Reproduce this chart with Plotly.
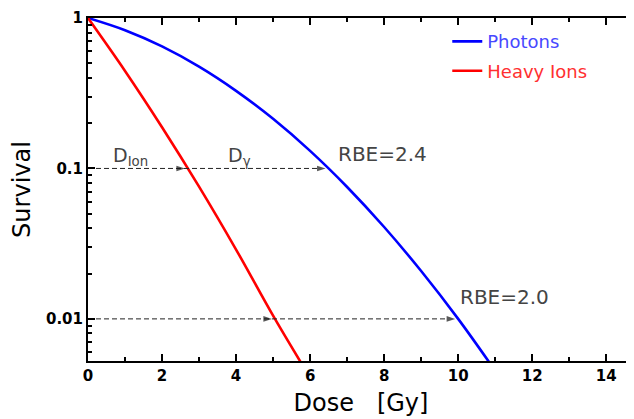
import numpy as np
import plotly.graph_objects as go

# ---- data ----
photon_dose = [0, 1, 2, 3, 4, 5, 6, 7, 8, 9, 10, 10.9]
photon_surv = [1.0, 0.829, 0.647, 0.475, 0.328, 0.2136, 0.1308, 0.0753, 0.0408, 0.0208, 0.0100, 0.0049]

ion_dose = [0, 1, 2, 3, 4, 5, 5.8]
ion_surv = [1.0, 0.445, 0.188, 0.0757, 0.0289, 0.0105, 0.0049]

levels = [0.1, 0.01]
d_ion = [2.7, 5.05]        # heavy-ion dose at each survival level
d_photon = [6.5, 10.0]     # photon dose at each survival level
rbe_labels = ["RBE=2.4", "RBE=2.0"]
dose_labels = ["D<sub>Ion</sub>", "D<sub>γ</sub>"]
dose_label_x = [1.15, 4.1]

x_ticks = [0, 2, 4, 6, 8, 10, 12, 14]
y_ticks = [1, 0.1, 0.01]
y_ticklabels = ["1", "0.1", "0.01"]
y_minor = [m * 10.0 ** e for e in (-3, -2, -1) for m in range(2, 10)]

FONT = "DejaVu Sans"
GREY = "#444444"

fig = go.Figure()

fig.add_trace(go.Scatter(x=photon_dose, y=photon_surv, mode="lines", line_shape="spline",
                         line=dict(color="#0000ff", width=2.6), legendgroup="p",
                         name='<span style="color:#4848ff">Photons</span>'))
fig.add_trace(go.Scatter(x=ion_dose, y=ion_surv, mode="lines", line_shape="spline",
                         line=dict(color="#ff0000", width=2.6), legendgroup="i",
                         name='<span style="color:#ff3030">Heavy Ions</span>'))

# dashed reference lines with arrowheads at the two curve crossings
for lev, di, dp in zip(levels, d_ion, d_photon):
    fig.add_trace(go.Scatter(x=[0, di, dp], y=[lev, lev, lev], mode="lines+markers",
                             line=dict(color="#222222", width=1, dash="5px,3px"),
                             marker=dict(symbol="arrow", angleref="previous", size=[0, 9, 9],
                                         standoff=3, color="#111111", line=dict(width=0)),
                             showlegend=False, hoverinfo="skip"))

# dose labels on the 0.1 line
for lab, lx in zip(dose_labels, dose_label_x):
    fig.add_annotation(x=lx, y=np.log10(levels[0]), xref="x", yref="y",
                       text=lab, showarrow=False, yanchor="bottom", yshift=-3,
                       font=dict(family=FONT, size=19, color=GREY))

# RBE labels
rbe_xshift = [7, 0]
rbe_yshift = [0, 8]
for lev, dp, lab, xs, ys in zip(levels, d_photon, rbe_labels, rbe_xshift, rbe_yshift):
    fig.add_annotation(x=dp, y=np.log10(lev), xref="x", yref="y", text=lab,
                       showarrow=False, xanchor="left", yanchor="bottom", xshift=xs, yshift=ys,
                       font=dict(family=FONT, size=20, color=GREY))

tickfont = dict(family=FONT, size=15, color="black", weight="bold")

fig.update_xaxes(range=[0, 14.75], tickvals=x_ticks, ticks="inside", ticklen=7, tickwidth=2,
                 tickcolor="black", showline=True, linecolor="black", linewidth=2, mirror="ticks",
                 showgrid=False, zeroline=False, automargin=False,
                 minor=dict(dtick=1, ticks="inside", ticklen=4, tickwidth=1.5, tickcolor="black"),
                 tickfont=tickfont,
                 title=dict(text="Dose&nbsp;&nbsp;&nbsp;[Gy]",
                            font=dict(family=FONT, size=24, color="black"), standoff=10))
fig.update_yaxes(type="log", range=[-2.28, 0], tickvals=y_ticks, ticktext=y_ticklabels,
                 ticks="inside", ticklen=7, tickwidth=2, tickcolor="black",
                 showline=True, linecolor="black", linewidth=2, showgrid=False, zeroline=False,
                 automargin=False,
                 minor=dict(tickvals=y_minor, ticks="inside", ticklen=4, tickwidth=1.5,
                            tickcolor="black", showgrid=False),
                 tickfont=tickfont,
                 title=dict(text="Survival", font=dict(family=FONT, size=24, color="black"),
                            standoff=12))

fig.update_layout(width=626, height=411, margin=dict(l=80, r=0, t=10, b=58),
                  plot_bgcolor="white", paper_bgcolor="white",
                  legend=dict(x=0.658, y=0.985, xanchor="left", yanchor="top",
                              bgcolor="rgba(0,0,0,0)", font=dict(family=FONT, size=18),
                              tracegroupgap=3))

fig.write_html("out.html")
